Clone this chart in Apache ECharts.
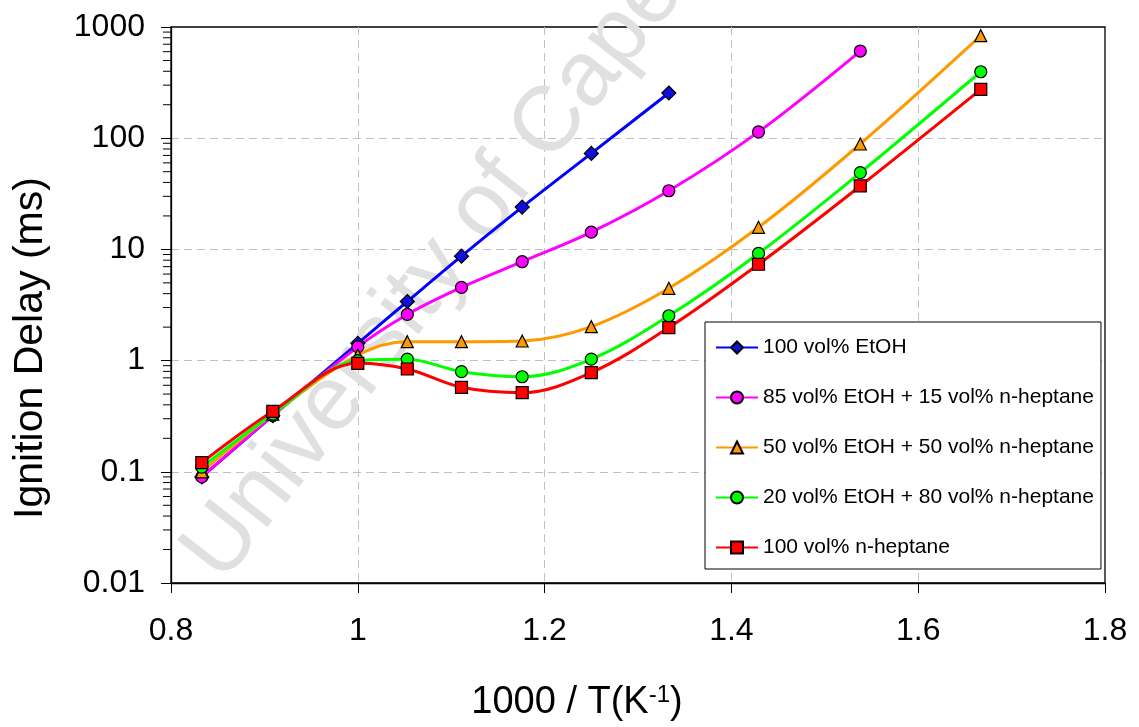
<!DOCTYPE html>
<html>
<head>
<meta charset="utf-8">
<script src="https://cdn.jsdelivr.net/npm/echarts@6/dist/echarts.min.js"></script>
<style>
  html, body { margin: 0; padding: 0; background: #fff; }
  #chart { width: 1139px; height: 727px; }
</style>
</head>
<body>
<div id="chart"></div>
<script>
// Inverse temperature, 1000 / T (K^-1)
const invT = [0.833, 0.909, 1.0, 1.053, 1.111, 1.176, 1.25, 1.333, 1.429, 1.538, 1.667];

// Ignition delay (ms) for each fuel blend
const etoh100    = [0.09, 0.32, 1.43, 3.4, 8.7, 24, 73, 255];
const etoh85     = [0.09, 0.32, 1.33, 2.6, 4.55, 7.75, 14.3, 33.7, 114, 608];
const etoh50     = [0.1, 0.33, 1.12, 1.48, 1.48, 1.5, 2.02, 4.47, 15.8, 88.7, 835];
const etoh20     = [0.11, 0.33, 1.0, 1.03, 0.795, 0.716, 1.03, 2.53, 9.2, 49, 396];
const heptane100 = [0.121, 0.35, 0.946, 0.84, 0.575, 0.515, 0.78, 1.98, 7.35, 37.2, 275];

const seriesNames = [
  '100 vol% EtOH',
  '85 vol% EtOH + 15 vol% n-heptane',
  '50 vol% EtOH + 50 vol% n-heptane',
  '20 vol% EtOH + 80 vol% n-heptane',
  '100 vol% n-heptane'
];

const xTickLabels = ['0.8', '1', '1.2', '1.4', '1.6', '1.8'];
const yTickLabels = ['0.01', '0.1', '1', '10', '100', '1000'];
const yMinorTicks = [
  0.02, 0.03, 0.04, 0.05, 0.06, 0.07, 0.08, 0.09,
  0.2, 0.3, 0.4, 0.5, 0.6, 0.7, 0.8, 0.9,
  2, 3, 4, 5, 6, 7, 8, 9,
  20, 30, 40, 50, 60, 70, 80, 90,
  200, 300, 400, 500, 600, 700, 800, 900
];

const FONT = 'Liberation Sans, Arial, sans-serif';

function pairs(values) {
  return values.map((v, i) => [invT[i], v]);
}

const styles = [
  { symbol: 'diamond',  size: 14, line: '#0000FF', fill: '#1010DD' },
  { symbol: 'circle',   size: 12, line: '#FF00FF', fill: '#FF00FF' },
  { symbol: 'triangle', size: 12, line: '#FF9900', fill: '#FF9900' },
  { symbol: 'circle',   size: 12, line: '#00FF00', fill: '#00FF00' },
  { symbol: 'rect',     size: 12, line: '#FF0000', fill: '#FF0000' }
];
const seriesValues = [etoh100, etoh85, etoh50, etoh20, heptane100];

const lineSeries = seriesValues.map((vals, k) => ({
  type: 'line',
  name: seriesNames[k],
  data: pairs(vals),
  smooth: 0.35,
  symbol: styles[k].symbol,
  symbolSize: styles[k].size,
  showAllSymbol: true,
  lineStyle: { color: styles[k].line, width: 3 },
  itemStyle: { color: styles[k].fill, borderColor: '#000', borderWidth: 1.2 },
  z: 2
}));

const watermark = {
  type: 'text',
  id: 'watermark',
  x: 508, y: 178,
  rotation: 52 * Math.PI / 180,
  silent: true,
  z: 1,
  style: {
    text: 'University of Cape Town',
    font: '92px ' + FONT,
    fill: '#e0e0e0',
    align: 'center',
    verticalAlign: 'middle'
  }
};

const chart = echarts.init(document.getElementById('chart'), null, { renderer: 'canvas' });

chart.setOption({
  animation: false,
  backgroundColor: '#fff',
  grid: {
    left: 171, right: 34, top: 27, bottom: 144,
    show: true, borderColor: '#000', borderWidth: 1.3, backgroundColor: 'transparent'
  },
  graphic: [watermark],
  legend: {
    orient: 'vertical',
    left: 705, top: 322,
    itemWidth: 42, itemHeight: 15, itemGap: 29,
    padding: [15, 7, 11, 10],
    backgroundColor: '#fff',
    borderColor: '#000', borderWidth: 1,
    textStyle: { fontSize: 21, lineHeight: 21, color: '#000', fontFamily: FONT },
    data: seriesNames,
    selectedMode: false,
    z: 5
  },
  xAxis: {
    type: 'value',
    min: 0.8, max: 1.8, interval: 0.2,
    axisLine: { show: true, onZero: false, lineStyle: { color: '#000', width: 1.3 } },
    axisTick: { show: true, inside: false, length: 10, lineStyle: { color: '#000' } },
    axisLabel: {
      margin: 32, fontSize: 32, color: '#000', fontFamily: FONT,
      formatter: v => xTickLabels[Math.round((v - 0.8) / 0.2)]
    },
    splitLine: {
      show: true, showMinLine: false, showMaxLine: false,
      lineStyle: { color: '#c0c0c0', type: [8, 5], width: 1 }
    },
    name: '1000 / T(K{sup|-1})',
    nameLocation: 'middle',
    nameGap: 100,
    nameTextStyle: {
      fontSize: 38, color: '#000', fontFamily: FONT,
      padding: [0, 122, 0, 0],
      rich: { sup: { fontSize: 24, color: '#000', fontFamily: FONT, padding: [0, 0, 16, 0] } }
    }
  },
  yAxis: {
    type: 'log',
    logBase: 10,
    min: 0.01, max: 1000,
    axisLine: { show: true, onZero: false, lineStyle: { color: '#000', width: 1.3 } },
    axisTick: { show: true, inside: false, length: 10, lineStyle: { color: '#000' } },
    minorTick: { show: false },
    axisLabel: {
      margin: 26, fontSize: 32, color: '#000', fontFamily: FONT,
      formatter: v => yTickLabels[Math.round(Math.log10(v)) + 2]
    },
    splitLine: {
      show: true, showMinLine: false, showMaxLine: false,
      lineStyle: { color: '#c0c0c0', type: [8, 5], width: 1 }
    },
    name: 'Ignition Delay (ms)',
    nameLocation: 'middle',
    nameRotate: 90,
    nameGap: 120,
    nameTextStyle: { fontSize: 41, color: '#000', fontFamily: FONT, padding: [0, 86, 0, 0] }
  },
  series: lineSeries
});

// Minor ticks (2..9 of each decade) placed through the log axis scale,
// just outside the left axis line
const minorTicks = yMinorTicks.map((v, i) => {
  const p = chart.convertToPixel({ gridIndex: 0 }, [0.8, v]);
  return {
    type: 'line',
    id: 'minor' + i,
    silent: true,
    z: 3,
    shape: { x1: p[0] - 8, y1: p[1], x2: p[0], y2: p[1] },
    style: { stroke: '#000', lineWidth: 1 }
  };
});

chart.setOption({ graphic: [watermark].concat(minorTicks) });
</script>
</body>
</html>
